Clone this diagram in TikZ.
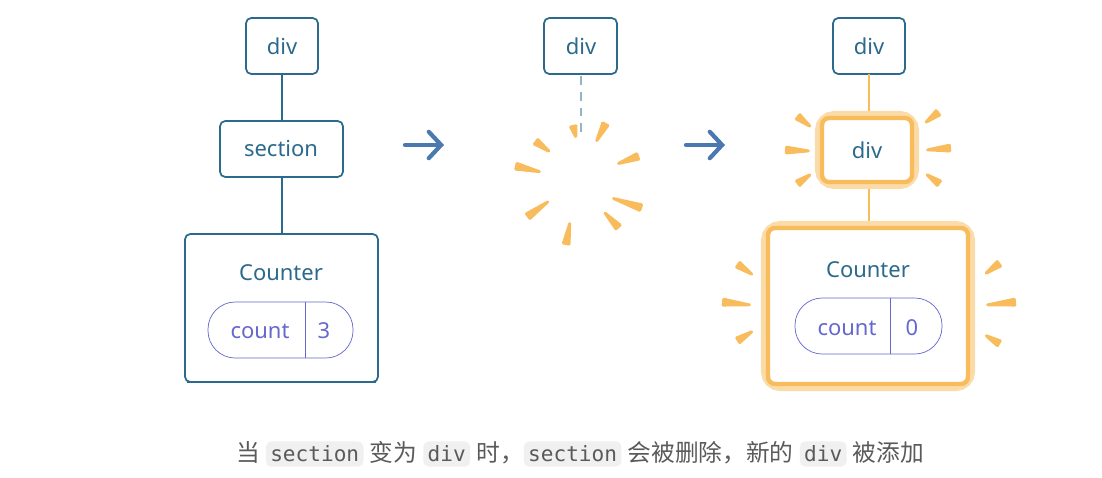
\documentclass[tikz,border=0pt]{standalone}
\usepackage{fontspec}
\setmainfont{Noto Sans}
\setmonofont{DejaVu Sans Mono}
\newfontfamily\cjk{Noto Sans CJK SC}
\usetikzlibrary{calc,arrows.meta}
\definecolor{teal}{HTML}{2B6A8C}
\definecolor{pill}{HTML}{6667CF}
\definecolor{spark}{HTML}{F8BC5C}
\definecolor{halo}{HTML}{FBDCA8}
\definecolor{arrowblue}{HTML}{4A78B0}
\definecolor{capgray}{HTML}{5A5A5A}
\tikzset{
  box/.style={draw=teal, line width=1pt, rounded corners=3pt, fill=white},
  newbox/.style={draw=spark, line width=2.5pt, rounded corners=4pt, fill=white},
  glow/.style={draw=halo, line width=8pt, rounded corners=7pt},
  lbl/.style={text=teal, font=\fontsize{12.5}{15}\selectfont},
  val/.style={text=pill, font=\fontsize{12.5}{15}\selectfont},
  capsule/.style={draw=pill, rounded corners=15.5pt},
  link/.style={draw=teal, line width=1pt},
  newlink/.style={draw=spark, line width=1.5pt},
  transition/.style={draw=arrowblue, line width=2.4pt, line cap=round, -{Straight Barb[length=7pt,width=15pt,line cap=round]}},
  code/.style={fill=gray!12, rounded corners=3pt, inner sep=2.5pt, font=\ttfamily\fontsize{12}{14}\selectfont, text=capgray}
}
\newcommand\ray[2]{%
  \fill[spark, rounded corners=0.8pt] ($#1!2.6pt!90:#2$) -- ($#1!2.6pt!-90:#2$) -- ($#2!0.7pt!90:#1$) -- ($#2!0.7pt!-90:#1$) -- cycle;}
\begin{document}
\begin{tikzpicture}[x=0.02cm, y=-0.02cm]
  \useasboundingbox (0,0) rectangle (1102,477);

  % before
  \draw[box] (246,18) rectangle (318,74);
  \node[lbl] (div1) at (282,46) {div};
  \draw[box] (220,121) rectangle (343,177);
  \node[lbl] (sec) at (281,149) {section};
  \draw[box] (185,234) rectangle (378,382);
  \draw[teal, line width=1.5pt] (187,382) -- (376,382);
  \node[lbl] (cnt1) at (281,273) {Counter};
  \draw[capsule] (208,302) rectangle (353,358);
  \draw[pill] (305,302) -- (305,358);
  \node[val] (k1) at (260,331) {count};
  \node[val] (v1) at (324,331) {3};
  \coordinate (d1b) at (282,74);
  \coordinate (s1t) at (282,121);
  \coordinate (s1b) at (282,177);
  \coordinate (c1t) at (282,234);
  \draw[link] (d1b) -- (s1t);
  \draw[link] (s1b) -- (c1t);

  \coordinate (a1) at (405,145);
  \coordinate (a1e) at (444,145);
  \draw[transition] (a1) -- (a1e);

  % removal
  \draw[box] (544,18) rectangle (617,74);
  \node[lbl] (div2) at (581,46) {div};
  \coordinate (d2b) at (581,76);
  \coordinate (d2e) at (581,132);
  \draw[draw=teal!50, line width=1pt, dash pattern=on 5pt off 4pt] (d2b) -- (d2e);
  \ray{(573,125)}{(576,138)}
  \ray{(606,123)}{(596,142)}
  \ray{(639,156)}{(617,164)}
  \ray{(515,166)}{(541,172)}
  \ray{(535,141)}{(550,152)}
  \ray{(527,217)}{(549,201)}
  \ray{(642,208)}{(612,198)}
  \ray{(619,228)}{(604,212)}
  \ray{(566,245)}{(570,222)}

  \coordinate (a2) at (686,145);
  \coordinate (a2e) at (725,145);
  \draw[transition] (a2) -- (a2e);

  % after
  \draw[box] (833,18) rectangle (905,74);
  \node[lbl] (div3) at (869,46) {div};
  \coordinate (d3b) at (869,74);
  \coordinate (n3t) at (869,118);
  \coordinate (n3b) at (869,182);
  \coordinate (c3t) at (869,228);
  \draw[newlink] (d3b) -- (n3t);
  \draw[newlink] (n3b) -- (c3t);
  \draw[glow] (822,118) rectangle (912,182);
  \draw[newbox] (822,118) rectangle (912,182);
  \node[lbl] (div4) at (867,150) {div};
  \draw[glow] (768,228) rectangle (968,384);
  \draw[newbox] (768,228) rectangle (968,384);
  \node[lbl] (cnt3) at (868,270) {Counter};
  \draw[capsule] (795,298) rectangle (942,354);
  \draw[pill] (890,298) -- (890,354);
  \node[val] (k3) at (847,328) {count};
  \node[val] (v3) at (912,328) {0};
  \ray{(797,116)}{(811,127)}
  \ray{(785,150)}{(810,151)}
  \ray{(797,184)}{(811,174)}
  \ray{(939,112)}{(925,123)}
  \ray{(951,148)}{(926,150)}
  \ray{(940,184)}{(926,174)}
  \ray{(737,264)}{(753,275)}
  \ray{(722,302)}{(751,305)}
  \ray{(737,341)}{(753,331)}
  \ray{(1000,263)}{(985,274)}
  \ray{(1016,302)}{(986,305)}
  \ray{(1000,344)}{(985,335)}

  % caption
  \node[text=capgray, font=\fontsize{13.5}{16}\selectfont, inner sep=0pt] (cap) at (580,454)
    {{\cjk 当} \tikz[baseline=(c.base)]\node[code](c){section}; {\cjk 变为} \tikz[baseline=(c.base)]\node[code](c){div}; {\cjk 时，}\tikz[baseline=(c.base)]\node[code](c){section}; {\cjk 会被删除，新的} \tikz[baseline=(c.base)]\node[code](c){div}; {\cjk 被添加}};
\end{tikzpicture}
\end{document}
